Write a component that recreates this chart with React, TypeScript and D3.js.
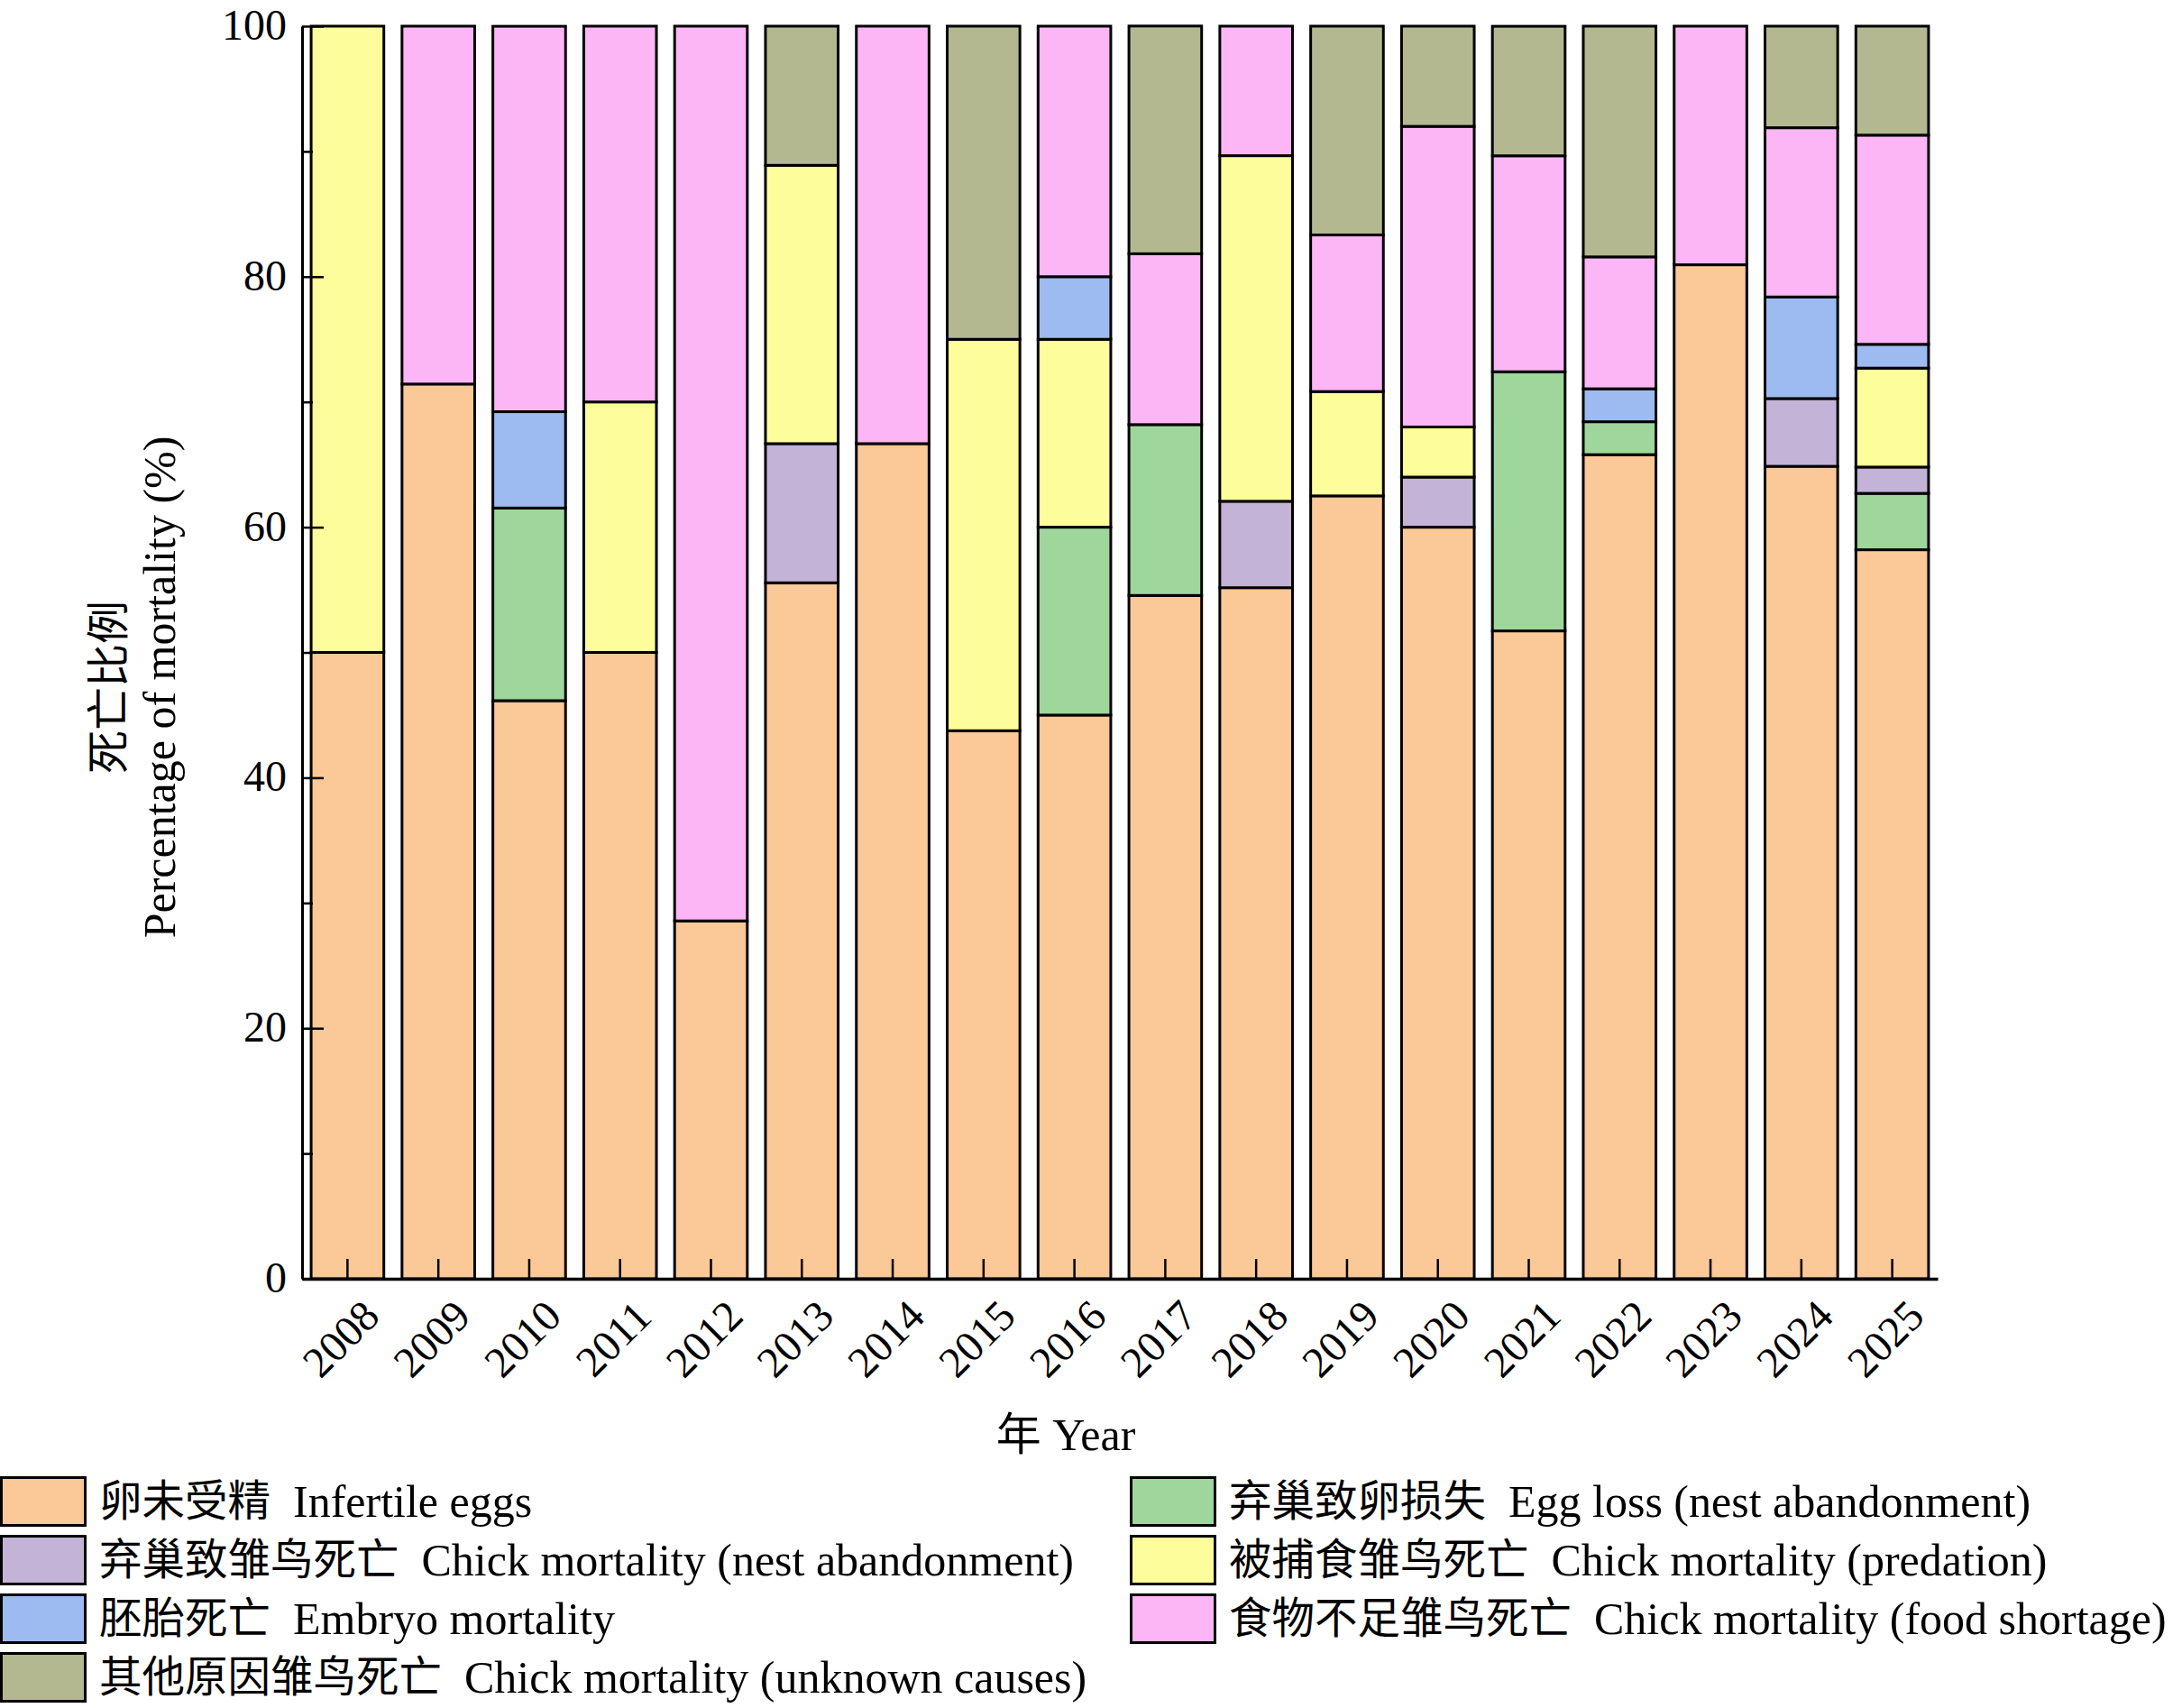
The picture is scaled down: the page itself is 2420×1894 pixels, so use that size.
import React, { useEffect, useRef } from 'react';
import * as d3 from 'd3';

// years on the x axis
const years: string[] = [
  '2008', '2009', '2010', '2011', '2012', '2013', '2014', '2015', '2016',
  '2017', '2018', '2019', '2020', '2021', '2022', '2023', '2024', '2025',
];

// percentages per cause, stacked bottom -> top
const infertile = [50, 71.43, 46.15, 50, 28.57, 55.56, 66.67, 43.75, 45, 54.55, 55.17, 62.5, 60, 51.72, 65.79, 80.95, 64.86, 58.2];
const eggLoss = [0, 0, 15.38, 0, 0, 0, 0, 0, 15, 13.64, 0, 0, 0, 20.69, 2.63, 0, 0, 4.5];
const chickAbandon = [0, 0, 0, 0, 0, 11.11, 0, 0, 0, 0, 6.9, 0, 4, 0, 0, 0, 5.41, 2.1];
const predation = [50, 0, 0, 20, 0, 22.22, 0, 31.25, 15, 0, 27.59, 8.33, 4, 0, 0, 0, 0, 7.9];
const embryo = [0, 0, 7.69, 0, 0, 0, 0, 0, 5, 0, 0, 0, 0, 0, 2.63, 0, 8.11, 1.9];
const foodShortage = [0, 28.57, 30.77, 30, 71.43, 0, 33.33, 0, 20, 13.64, 10.34, 12.5, 24, 17.24, 10.53, 19.05, 13.51, 16.7];
const unknownCauses = [0, 0, 0, 0, 0, 11.11, 0, 25, 0, 18.18, 0, 16.67, 8, 10.34, 18.42, 0, 8.11, 8.7];

const seriesKeys = ['infertile', 'eggLoss', 'chickAbandon', 'predation', 'embryo', 'foodShortage', 'unknownCauses'];
const seriesValues: number[][] = [infertile, eggLoss, chickAbandon, predation, embryo, foodShortage, unknownCauses];
const seriesLabelsZh: string[] = ['卵未受精', '弃巢致卵损失', '弃巢致雏鸟死亡', '被捕食雏鸟死亡', '胚胎死亡', '食物不足雏鸟死亡', '其他原因雏鸟死亡'];
const seriesLabelsEn: string[] = [
  'Infertile eggs',
  'Egg loss (nest abandonment)',
  'Chick mortality (nest abandonment)',
  'Chick mortality (predation)',
  'Embryo mortality',
  'Chick mortality (food shortage)',
  'Chick mortality (unknown causes)',
];
const colors: string[] = ['#FBC898', '#9ED69C', '#C3B3D6', '#FEFD9C', '#9DBBF0', '#FCB6F6', '#B3B891'];

// legend: first column, then second column
const legendCols: string[][] = [
  ['infertile', 'chickAbandon', 'embryo', 'unknownCauses'],
  ['eggLoss', 'predation', 'foodShortage'],
];

const majorTicks = [0, 20, 40, 60, 80, 100];
const minorTicks = [10, 30, 50, 70, 90];

const FONT = '"Liberation Serif", "Times New Roman", "Noto Sans CJK SC", serif';

const App: React.FC = () => {
  const svgRef = useRef<SVGSVGElement | null>(null);

  useEffect(() => {
    if (!svgRef.current) return;

    const width = 2420;
    const height = 1894;
    const left = 335;
    const right = 2149;
    const top = 29;
    const bottom = 1418;

    const root = d3.select(svgRef.current);
    root.selectAll('*').remove();
    root.attr('width', width).attr('height', height);

    const table = years.map((yr, i) => {
      const row: Record<string, any> = { year: yr };
      seriesKeys.forEach((k, j) => (row[k] = seriesValues[j][i]));
      return row;
    });

    const stack = d3.stack<any>().keys(seriesKeys);
    const layers = stack(table);

    const x = d3.scaleBand<string>().domain(years).range([left, right]).paddingInner(0.2).paddingOuter(0.1);
    const y = d3.scaleLinear().domain([0, 100]).range([bottom, top]);
    const color = d3.scaleOrdinal<string, string>().domain(seriesKeys).range(colors);

    // bars
    root
      .append('g')
      .selectAll('g')
      .data(layers)
      .enter()
      .append('g')
      .attr('fill', (d) => color(d.key))
      .selectAll('rect')
      .data((d) => d.filter((s) => s[1] - s[0] > 0))
      .enter()
      .append('rect')
      .attr('x', (d) => x(d.data.year) as number)
      .attr('width', x.bandwidth())
      .attr('y', (d) => y(d[1]))
      .attr('height', (d) => y(d[0]) - y(d[1]))
      .attr('stroke', '#000')
      .attr('stroke-width', 3);

    // y axis, ticks pointing inward
    const yAxis = root
      .append('g')
      .attr('transform', `translate(${left},0)`)
      .call(d3.axisLeft(y).tickValues(majorTicks).tickSize(-24).tickSizeOuter(0).tickPadding(17));
    root
      .append('g')
      .attr('transform', `translate(${left},0)`)
      .call(d3.axisLeft(y).tickValues(minorTicks).tickSize(-12).tickSizeOuter(0).tickFormat(() => ''))
      .call((g) => g.select('.domain').remove());

    // x axis
    const xAxis = root
      .append('g')
      .attr('transform', `translate(0,${bottom})`)
      .call(d3.axisBottom(x).tickSize(-22).tickSizeOuter(0));

    [yAxis, xAxis].forEach((g) => g.attr('font-family', FONT).attr('font-size', 48));
    root.selectAll('.tick line').attr('stroke', '#000').attr('stroke-width', 2.5);
    yAxis.select('.domain').attr('stroke', '#000').attr('stroke-width', 3);
    xAxis.select('.domain').attr('stroke', '#000').attr('stroke-width', 3.5);
    yAxis.selectAll('text').attr('fill', '#000').attr('dy', '0.3em');
    xAxis
      .selectAll('text')
      .attr('fill', '#000')
      .attr('x', null)
      .attr('y', null)
      .attr('dy', null)
      .attr('text-anchor', 'middle')
      .attr('transform', 'translate(4,78) rotate(-45)');

    // axis titles
    const yTitle = root
      .append('text')
      .attr('transform', 'translate(0,762) rotate(-90)')
      .attr('text-anchor', 'middle')
      .attr('font-family', FONT)
      .attr('font-size', 50);
    yTitle.append('tspan').attr('x', 0).attr('y', 137).attr('font-size', 48).text('死亡比例');
    yTitle.append('tspan').attr('x', 0).attr('y', 194).text('Percentage of mortality (%)');

    root
      .append('text')
      .attr('x', 1182)
      .attr('y', 1608)
      .attr('text-anchor', 'middle')
      .attr('font-family', FONT)
      .attr('font-size', 50)
      .style('white-space', 'pre')
      .text('年 Year');

    // legend
    const colX = [0, 1253];
    const rowY = 1637;
    const rowStep = 65;
    const legend = root.append('g');
    legendCols.forEach((keys, c) => {
      keys.forEach((k, r) => {
        const idx = seriesKeys.indexOf(k);
        const g = legend.append('g').attr('transform', `translate(${colX[c]},${rowY + r * rowStep})`);
        g.append('rect')
          .attr('x', 1.5)
          .attr('y', 1.5)
          .attr('width', 93)
          .attr('height', 53)
          .attr('fill', color(k))
          .attr('stroke', '#000')
          .attr('stroke-width', 3);
        const t = g
          .append('text')
          .attr('x', 110)
          .attr('y', 28)
          .attr('dominant-baseline', 'central')
          .attr('font-family', FONT)
          .attr('font-size', 50)
          .style('white-space', 'pre');
        t.append('tspan').attr('font-size', 47.5).text(seriesLabelsZh[idx]);
        t.append('tspan').text('  ' + seriesLabelsEn[idx]);
      });
    });
  }, []);

  return (
    <svg
      ref={svgRef}
      style={{ position: 'absolute', left: 0, top: 0, background: '#fff' }}
    ></svg>
  );
};

export default App;
